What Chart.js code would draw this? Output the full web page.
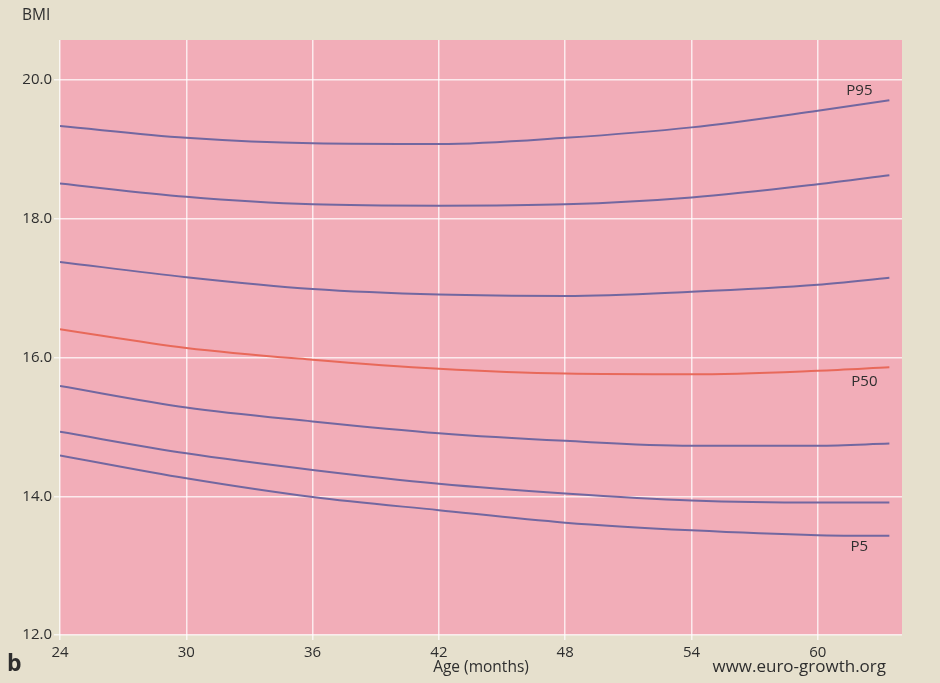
<!DOCTYPE html>
<html lang="en">
<head>
<meta charset="UTF-8">
<title>BMI percentiles, 24 to 64 months</title>
<script src="https://cdn.jsdelivr.net/npm/chart.js@4.4.1/dist/chart.umd.min.js"></script>
<style>
    html, body {
        margin: 0;
        padding: 0;
        background: #e6e0cd;
    }
    #wrap {
        width: 940px;
        height: 683px;
    }
</style>
</head>
<body>
<div id="wrap"><canvas id="myChart" width="940" height="683"></canvas></div>
<script>
// age in months
const ages = [24, 30, 36, 42, 48, 54, 60, 63.4];

// BMI percentile curves
const p95 = [19.34, 19.17, 19.09, 19.08, 19.17, 19.32, 19.56, 19.71];
const p90 = [18.51, 18.32, 18.21, 18.19, 18.21, 18.31, 18.50, 18.63];
const p75 = [17.38, 17.16, 16.99, 16.91, 16.89, 16.95, 17.05, 17.15];
const p50 = [16.41, 16.14, 15.97, 15.84, 15.77, 15.76, 15.81, 15.86];
const p25 = [15.59, 15.28, 15.08, 14.91, 14.80, 14.73, 14.73, 14.76];
const p10 = [14.93, 14.62, 14.38, 14.18, 14.04, 13.94, 13.91, 13.91];
const p5  = [14.59, 14.26, 13.99, 13.80, 13.62, 13.51, 13.44, 13.43];

const xTicks = [24, 30, 36, 42, 48, 54, 60];
const yTicks = [12, 14, 16, 18, 20];

const FONT = '"Open Sans", "Noto Sans", sans-serif';
const BLUE = '#7267a0';
const RED = '#e8695a';
const TEXT = '#2e2e2e';

function serie(label, values, color) {
    return {
        label: label,
        data: ages.map((a, i) => ({x: a, y: values[i]})),
        borderColor: color,
        borderWidth: 2,
        pointRadius: 0,
        fill: false,
        cubicInterpolationMode: 'monotone'
    };
}

// labels placed next to the last point of a curve
const curveLabels = [
    {text: 'P95', dataset: 0, dx: -30, dy: -10},
    {text: 'P50', dataset: 3, dx: -25, dy: 14},
    {text: 'P5',  dataset: 6, dx: -30, dy: 11}
];

const paintPlugin = {
    id: 'paint',
    beforeDraw(chart) {
        const ctx = chart.ctx;
        const a = chart.chartArea;
        ctx.save();
        ctx.fillStyle = '#e6e0cd';
        ctx.fillRect(0, 0, chart.width, chart.height);
        ctx.fillStyle = '#f2adb8';
        ctx.fillRect(a.left, a.top, a.right - a.left, a.bottom - a.top);
        ctx.restore();
    },
    afterDraw(chart) {
        const ctx = chart.ctx;
        const xs = chart.scales.x;
        const ys = chart.scales.y;
        ctx.save();
        ctx.fillStyle = TEXT;
        ctx.textBaseline = 'middle';

        ctx.font = '15.5px ' + FONT;
        ctx.textAlign = 'left';
        ctx.fillText('BMI', 22, 16);

        ctx.font = 'bold 23px ' + FONT;
        ctx.fillText('b', 7, 664);

        ctx.font = '17px ' + FONT;
        ctx.textAlign = 'right';
        ctx.fillText('www.euro-growth.org', 886, 667);

        ctx.font = '15px ' + FONT;
        ctx.textAlign = 'center';
        curveLabels.forEach(l => {
            const d = chart.data.datasets[l.dataset].data;
            const last = d[d.length - 1];
            ctx.fillText(l.text, xs.getPixelForValue(last.x) + l.dx, ys.getPixelForValue(last.y) + l.dy);
        });
        ctx.restore();
    }
};

const ctx = document.getElementById('myChart').getContext('2d');
new Chart(ctx, {
    type: 'line',
    data: {
        datasets: [
            serie('P95', p95, BLUE),
            serie('P90', p90, BLUE),
            serie('P75', p75, BLUE),
            serie('P50', p50, RED),
            serie('P25', p25, BLUE),
            serie('P10', p10, BLUE),
            serie('P5', p5, BLUE)
        ]
    },
    options: {
        responsive: false,
        animation: false,
        devicePixelRatio: 1,
        layout: {
            padding: {top: 40, right: 38, left: 0, bottom: 0}
        },
        plugins: {
            legend: {display: false},
            tooltip: {enabled: false}
        },
        scales: {
            x: {
                type: 'linear',
                min: 24,
                max: 64,
                afterBuildTicks(scale) {
                    scale.ticks = xTicks.map(v => ({value: v}));
                },
                afterFit(scale) {
                    scale.height = 48;
                },
                grid: {
                    color: 'rgba(255,255,255,0.75)',
                    lineWidth: 1.5,
                    tickLength: 5
                },
                border: {display: false},
                ticks: {
                    color: TEXT,
                    font: {family: FONT, size: 15},
                    padding: 4,
                    maxRotation: 0
                },
                title: {
                    display: true,
                    text: 'Age (months)',
                    color: TEXT,
                    font: {family: FONT, size: 15.5},
                    padding: {top: 0, bottom: 6}
                }
            },
            y: {
                type: 'linear',
                min: 12,
                max: 20.58,
                afterBuildTicks(scale) {
                    scale.ticks = yTicks.map(v => ({value: v}));
                },
                afterFit(scale) {
                    scale.width = 60;
                },
                grid: {
                    color: 'rgba(255,255,255,0.75)',
                    lineWidth: 1.5,
                    tickLength: 6
                },
                border: {display: false},
                ticks: {
                    color: TEXT,
                    font: {family: FONT, size: 15},
                    padding: 2,
                    callback: v => Number(v).toFixed(1)
                }
            }
        }
    },
    plugins: [paintPlugin]
});
</script>
</body>
</html>
